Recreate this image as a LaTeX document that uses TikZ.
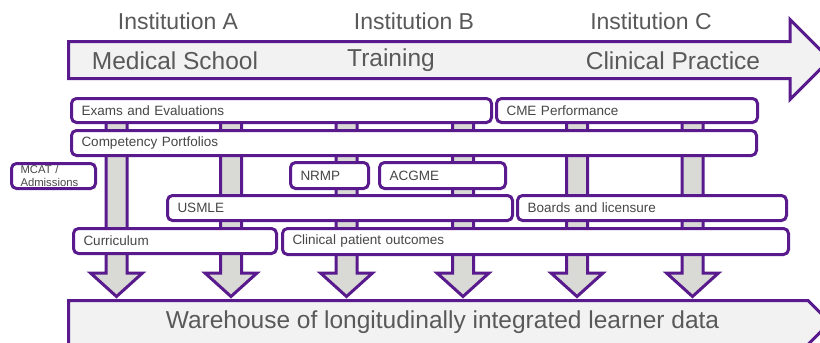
\documentclass[tikz,border=0pt]{standalone}
\usepackage{fontspec}
\setmainfont{Liberation Sans}
\usepackage{xcolor}
\usepackage{tikz}

\definecolor{purp}{RGB}{88,26,140}
\definecolor{shaftgray}{RGB}{217,217,214}
\definecolor{bandgray}{RGB}{242,242,242}
\definecolor{bigtext}{RGB}{89,89,89}
\definecolor{smalltext}{RGB}{70,70,70}

\begin{document}
\begin{tikzpicture}[
    x=1pt, y=-1pt,
    box/.style={rectangle, draw=purp, fill=white, line width=3pt, rounded corners=5pt, inner xsep=10pt, inner ysep=0pt, align=left, text=smalltext, font=\fontsize{13.5}{16}\selectfont},
    band/.style={draw=purp, fill=bandgray, line width=3pt},
    downarrow/.style={draw=purp, fill=shaftgray, line width=3pt},
    stage/.style={text=bigtext, font=\fontsize{24.5}{28}\selectfont},
    place/.style={text=bigtext, font=\fontsize{23}{27}\selectfont}
]
\clip (0,0) rectangle (820,343);

% Timeline arrow
\draw[band] (68.5,41.5) -- (790,41.5) -- (790,19.5) -- (830,59.5) -- (790,99.5) -- (790,78.5) -- (68.5,78.5) -- cycle;
\node[place] (instA) at (178,21) {Institution A};
\node[place] (instB) at (414,21) {Institution B};
\node[place] (instC) at (651,21) {Institution C};
\node[stage] (medschool) at (175,60.5) {Medical School};
\node[stage] (training) at (391,60.5) {Training};
\node[stage] (practice) at (673,60.5) {Clinical Practice};

% Warehouse
\draw[band] (68.5,300.5) -- (808,300.5) -- (830,322.5) -- (808,344.5) -- (68.5,344.5) -- cycle;
\node[stage] (warehouse) at (442.5,322) {Warehouse of longitudinally integrated learner data};

% Data flow arrows
\foreach \cx in {116.5,231,346.5,463,577,692.5}
    \draw[downarrow] (\cx-10.5,100) -- (\cx-10.5,273) -- (\cx-26,273) -- (\cx,296.5)
        -- (\cx+26,273) -- (\cx+10.5,273) -- (\cx+10.5,100) -- cycle;

% Data sources
\node[box, text width=400pt, minimum height=24pt] (exams) at (281.5,110.5) {Exams and Evaluations};
\node[box, text width=241pt, minimum height=24pt] (cme) at (627,110.5) {CME Performance};
\node[box, text width=665pt, minimum height=25pt] (portfolio) at (414,143) {Competency Portfolios};
\node[box, text width=66pt, minimum height=25pt, inner xsep=9pt, font=\fontsize{11.3}{12.5}\selectfont] (mcat) at (53.5,176) {MCAT /\\Admissions};
\node[box, text width=58pt, minimum height=26pt] (nrmp) at (329.5,175.5) {NRMP};
\node[box, text width=106pt, minimum height=26pt] (acgme) at (442.5,175.5) {ACGME};
\node[box, text width=325pt, minimum height=25pt] (usmle) at (340,208) {USMLE};
\node[box, text width=249pt, minimum height=25pt] (boards) at (652,208) {Boards and licensure};
\node[box, text width=183pt, minimum height=25pt] (curriculum) at (175,241) {Curriculum};
\node[box, text width=486pt, minimum height=26pt] (outcomes) at (535.5,241.5) {Clinical patient outcomes};

\end{tikzpicture}
\end{document}
